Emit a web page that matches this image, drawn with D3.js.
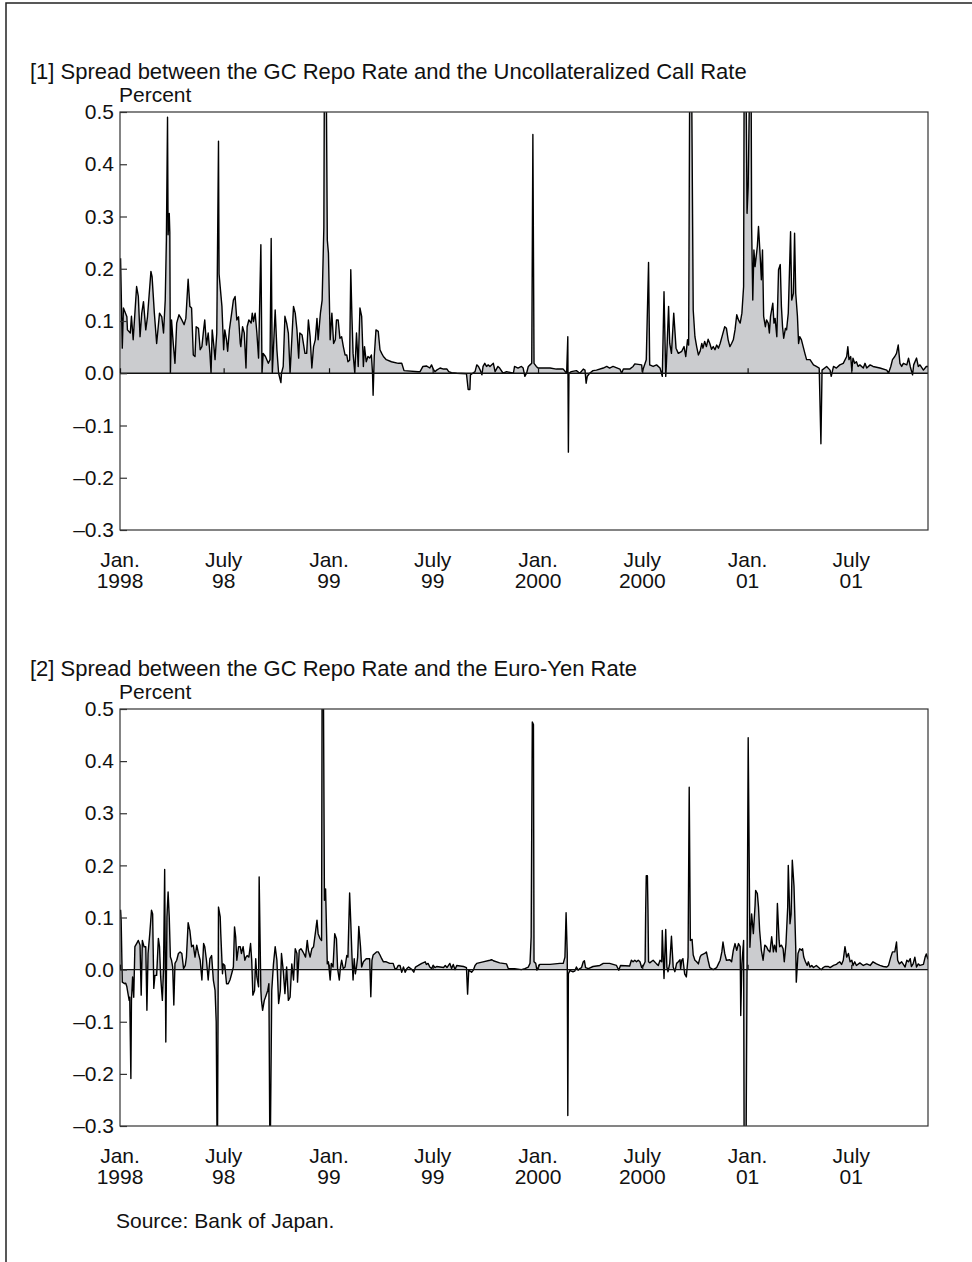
<!DOCTYPE html>
<html>
<head>
<meta charset="utf-8">
<script src="https://cdn.jsdelivr.net/npm/d3@7"></script>
<style>
  body { margin: 0; background: #fff; }
  text { font-family: "Liberation Sans", Arial, Helvetica, sans-serif; fill: #111; }
</style>
</head>
<body>
<div id="vis"></div>
<script>
// axis labels
const tickDates = ["1998-01-01", "1998-07-01", "1999-01-01", "1999-07-01", "2000-01-01", "2000-07-01", "2001-01-01", "2001-07-01"];
const tickMonth = ["Jan.", "July", "Jan.", "July", "Jan.", "July", "Jan.", "July"];
const tickYear = ["1998", "98", "99", "99", "2000", "2000", "01", "01"];
const yTicks = [0.5, 0.4, 0.3, 0.2, 0.1, 0.0, -0.1, -0.2, -0.3];

// [1] GC repo rate minus uncollateralized call rate (percent)
const callSpread = [
  ["1998-01-02",0.22],["1998-01-05",0.048],["1998-01-07",0.125],["1998-01-13",0.108],["1998-01-14",0.083],["1998-01-19",0.077],
  ["1998-01-21",0.109],["1998-01-24",0.064],["1998-01-27",0.115],["1998-01-30",0.166],["1998-02-02",0.147],["1998-02-05",0.07],
  ["1998-02-08",0.115],["1998-02-11",0.137],["1998-02-15",0.083],["1998-02-18",0.108],["1998-02-24",0.195],["1998-02-26",0.185],
  ["1998-03-02",0.115],["1998-03-06",0.057],["1998-03-11",0.115],["1998-03-15",0.108],["1998-03-18",0.077],["1998-03-21",0.14],
  ["1998-03-23",0.255],["1998-03-25",0.49],["1998-03-26",0.265],["1998-03-28",0.306],["1998-03-29",0.27],["1998-03-30",0.0],
  ["1998-04-01",0.102],["1998-04-04",0.057],["1998-04-07",0.019],["1998-04-10",0.096],["1998-04-14",0.112],["1998-04-19",0.102],
  ["1998-04-23",0.093],["1998-04-26",0.105],["1998-04-30",0.18],["1998-05-03",0.128],["1998-05-06",0.125],["1998-05-09",0.035],
  ["1998-05-12",0.032],["1998-05-14",0.089],["1998-05-18",0.086],["1998-05-21",0.045],["1998-05-24",0.051],["1998-05-27",0.083],
  ["1998-05-29",0.102],["1998-06-01",0.054],["1998-06-04",0.077],["1998-06-07",0.038],["1998-06-09",0.0],["1998-06-11",0.083],
  ["1998-06-14",0.051],["1998-06-16",0.026],["1998-06-19",0.077],["1998-06-22",0.444],["1998-06-23",0.19],["1998-06-28",0.128],
  ["1998-07-01",0.045],["1998-07-03",0.083],["1998-07-06",0.064],["1998-07-08",0.042],["1998-07-11",0.083],["1998-07-15",0.115],
  ["1998-07-18",0.14],["1998-07-21",0.147],["1998-07-24",0.102],["1998-07-27",0.108],["1998-07-30",0.057],["1998-07-31",0.051],
  ["1998-08-03",0.089],["1998-08-06",0.077],["1998-08-09",0.01],["1998-08-11",0.089],["1998-08-14",0.102],["1998-08-18",0.096],
  ["1998-08-20",0.115],["1998-08-22",0.099],["1998-08-25",0.115],["1998-08-28",0.077],["1998-08-31",0.029],["1998-09-04",0.246],
  ["1998-09-06",0.0],["1998-09-08",0.038],["1998-09-12",0.032],["1998-09-17",0.019],["1998-09-20",0.026],["1998-09-22",0.258],
  ["1998-09-24",0.0],["1998-09-29",0.121],["1998-10-02",0.045],["1998-10-05",0.0],["1998-10-09",-0.018],["1998-10-10",0.0],
  ["1998-10-13",0.013],["1998-10-16",0.109],["1998-10-19",0.096],["1998-10-22",0.077],["1998-10-25",0.0],["1998-10-28",0.064],
  ["1998-10-31",0.128],["1998-11-03",0.115],["1998-11-06",0.083],["1998-11-09",0.029],["1998-11-11",0.077],["1998-11-15",0.073],
  ["1998-11-20",0.038],["1998-11-23",0.038],["1998-11-26",0.102],["1998-11-29",0.07],["1998-12-02",0.01],["1998-12-05",0.051],
  ["1998-12-08",0.064],["1998-12-11",0.105],["1998-12-13",0.064],["1998-12-17",0.115],["1998-12-20",0.14],["1998-12-23",0.28],
  ["1998-12-24",0.6],["1998-12-27",0.6],["1998-12-29",0.255],["1998-12-31",0.23],
  ["1999-01-03",0.064],["1999-01-06",0.115],["1999-01-09",0.057],["1999-01-12",0.064],["1999-01-14",0.102],["1999-01-17",0.102],
  ["1999-01-20",0.067],["1999-01-23",0.07],["1999-01-26",0.051],["1999-01-29",0.035],["1999-02-01",0.035],["1999-02-03",0.022],
  ["1999-02-06",0.025],["1999-02-08",0.198],["1999-02-10",0.109],["1999-02-12",0.038],["1999-02-15",0.0],["1999-02-18",0.077],
  ["1999-02-21",0.013],["1999-02-24",0.125],["1999-02-27",0.109],["1999-03-02",0.013],["1999-03-04",0.051],["1999-03-07",0.022],
  ["1999-03-10",0.032],["1999-03-13",0.029],["1999-03-16",0.035],["1999-03-18",0.0],["1999-03-19",-0.042],["1999-03-21",0.032],
  ["1999-03-24",0.083],["1999-03-28",0.08],["1999-03-31",0.045],["1999-04-03",0.038],["1999-04-06",0.032],["1999-04-11",0.026],
  ["1999-04-20",0.022],["1999-05-02",0.019],["1999-05-08",0.019],["1999-05-12",0.005],["1999-06-06",0.003],["1999-06-09",0.003],
  ["1999-06-14",0.013],["1999-06-20",0.014],["1999-06-26",0.01],["1999-06-29",0.016],["1999-07-02",0.008],["1999-07-05",0.003],
  ["1999-07-08",0.006],["1999-07-14",0.01],["1999-07-20",0.008],["1999-07-26",0.008],["1999-07-29",0.003],["1999-08-03",0.001],
  ["1999-08-12",0.0],["1999-08-29",-0.001],["1999-09-01",-0.031],["1999-09-04",-0.031],["1999-09-05",-0.003],["1999-09-09",0.0],
  ["1999-09-13",0.003],["1999-09-16",0.016],["1999-09-19",0.013],["1999-09-22",0.006],["1999-09-25",-0.003],["1999-09-27",0.013],
  ["1999-09-30",0.019],["1999-10-03",0.013],["1999-10-06",0.016],["1999-10-09",0.013],["1999-10-15",0.019],["1999-10-18",0.003],
  ["1999-10-23",0.013],["1999-10-26",0.01],["1999-11-01",0.0],["1999-11-07",0.003],["1999-11-19",0.0],["1999-11-21",0.013],
  ["1999-11-27",0.01],["1999-12-03",0.013],["1999-12-06",0.01],["1999-12-09",-0.006],["1999-12-12",0.0],["1999-12-15",0.013],
  ["1999-12-18",0.016],["1999-12-21",0.019],["1999-12-23",0.457],["1999-12-25",0.019],["1999-12-29",0.013],
  ["2000-01-01",0.01],["2000-01-10",0.01],["2000-01-22",0.01],["2000-02-02",0.008],["2000-02-14",0.008],["2000-02-20",0.0],
  ["2000-02-22",0.07],["2000-02-23",-0.151],["2000-02-24",0.0],["2000-02-28",0.003],["2000-03-08",0.005],["2000-03-14",0.0],
  ["2000-03-20",0.008],["2000-03-23",0.006],["2000-03-25",-0.019],["2000-03-27",-0.006],["2000-03-31",0.0],["2000-04-06",0.005],
  ["2000-04-12",0.006],["2000-04-24",0.01],["2000-04-30",0.013],["2000-05-05",0.01],["2000-05-11",0.013],["2000-05-23",0.008],
  ["2000-05-26",0.0],["2000-05-29",0.008],["2000-06-09",0.008],["2000-06-15",0.013],["2000-06-18",0.018],["2000-06-30",0.016],
  ["2000-07-01",0.003],["2000-07-08",0.026],["2000-07-12",0.212],["2000-07-14",0.016],["2000-07-20",0.013],["2000-07-26",0.016],
  ["2000-08-01",0.01],["2000-08-05",-0.006],["2000-08-08",0.156],["2000-08-11",-0.006],["2000-08-12",0.013],["2000-08-16",0.128],
  ["2000-08-18",0.057],["2000-08-21",0.038],["2000-08-25",0.115],["2000-08-29",0.048],["2000-09-02",0.038],["2000-09-08",0.042],
  ["2000-09-12",0.051],["2000-09-15",0.032],["2000-09-18",0.064],["2000-09-20",0.054],["2000-09-22",0.6],["2000-09-25",0.6],
  ["2000-09-28",0.121],["2000-10-01",0.07],["2000-10-04",0.051],["2000-10-07",0.035],["2000-10-10",0.042],["2000-10-13",0.057],
  ["2000-10-15",0.048],["2000-10-18",0.061],["2000-10-21",0.051],["2000-10-24",0.065],["2000-10-27",0.057],["2000-10-30",0.046],
  ["2000-11-02",0.051],["2000-11-05",0.045],["2000-11-08",0.054],["2000-11-11",0.048],["2000-11-14",0.057],["2000-11-18",0.073],
  ["2000-11-22",0.089],["2000-11-25",0.086],["2000-11-28",0.064],["2000-12-01",0.051],["2000-12-04",0.057],["2000-12-07",0.064],
  ["2000-12-10",0.083],["2000-12-13",0.112],["2000-12-16",0.102],["2000-12-19",0.096],["2000-12-22",0.115],["2000-12-25",0.166],
  ["2000-12-26",0.6],["2000-12-29",0.6],["2000-12-31",0.306],
  ["2001-01-02",0.358],["2001-01-05",0.6],["2001-01-07",0.6],["2001-01-08",0.281],["2001-01-10",0.14],["2001-01-12",0.236],
  ["2001-01-14",0.204],["2001-01-18",0.243],["2001-01-20",0.281],["2001-01-23",0.223],["2001-01-25",0.179],["2001-01-27",0.236],
  ["2001-01-29",0.109],["2001-02-01",0.089],["2001-02-03",0.102],["2001-02-06",0.096],["2001-02-08",0.077],["2001-02-10",0.109],
  ["2001-02-14",0.134],["2001-02-16",0.096],["2001-02-18",0.105],["2001-02-21",0.07],["2001-02-24",0.198],["2001-02-27",0.208],
  ["2001-03-01",0.128],["2001-03-03",0.089],["2001-03-05",0.067],["2001-03-08",0.086],["2001-03-10",0.083],["2001-03-13",0.115],
  ["2001-03-15",0.192],["2001-03-17",0.271],["2001-03-19",0.14],["2001-03-22",0.153],["2001-03-24",0.268],["2001-03-26",0.153],
  ["2001-03-29",0.109],["2001-03-31",0.057],["2001-04-02",0.07],["2001-04-05",0.064],["2001-04-08",0.051],["2001-04-11",0.038],
  ["2001-04-14",0.026],["2001-04-20",0.026],["2001-04-26",0.016],["2001-05-01",0.013],["2001-05-06",0.01],["2001-05-09",-0.135],
  ["2001-05-11",0.006],["2001-05-19",0.013],["2001-05-25",0.006],["2001-05-27",-0.006],["2001-05-31",0.013],["2001-06-05",0.01],
  ["2001-06-11",0.016],["2001-06-17",0.019],["2001-06-23",0.032],["2001-06-25",0.051],["2001-06-27",0.026],["2001-06-30",0.032],
  ["2001-07-02",0.005],["2001-07-04",0.029],["2001-07-07",0.019],["2001-07-10",0.022],["2001-07-13",0.013],["2001-07-16",0.016],
  ["2001-07-22",0.01],["2001-07-25",0.019],["2001-07-28",0.01],["2001-08-03",0.016],["2001-08-08",0.013],["2001-08-20",0.01],
  ["2001-09-01",0.006],["2001-09-04",0.0],["2001-09-08",0.013],["2001-09-11",0.026],["2001-09-15",0.032],["2001-09-18",0.038],
  ["2001-09-21",0.054],["2001-09-24",0.019],["2001-09-27",0.013],["2001-09-30",0.019],["2001-10-06",0.016],["2001-10-09",0.029],
  ["2001-10-12",0.013],["2001-10-16",-0.003],["2001-10-18",0.016],["2001-10-23",0.029],["2001-10-26",0.013],["2001-10-29",0.016],
  ["2001-11-04",0.006],["2001-11-09",0.013],["2001-11-12",0.013]
];

// [2] GC repo rate minus euro-yen rate (percent)
const euroYenSpread = [
  ["1998-01-02",0.115],["1998-01-03",0.095],["1998-01-05",-0.024],["1998-01-09",-0.027],["1998-01-11",-0.026],["1998-01-13",-0.033],
  ["1998-01-14",-0.04],["1998-01-17",-0.059],["1998-01-18",-0.053],["1998-01-20",-0.209],["1998-01-21",-0.059],["1998-01-23",-0.014],
  ["1998-01-25",-0.053],["1998-01-27",0.044],["1998-01-30",0.05],["1998-02-02",0.056],["1998-02-05",0.047],["1998-02-07",-0.049],
  ["1998-02-09",0.056],["1998-02-12",0.044],["1998-02-15",0.044],["1998-02-17",-0.078],["1998-02-19",0.031],["1998-02-22",0.069],
  ["1998-02-25",0.114],["1998-02-27",0.107],["1998-03-01",-0.036],["1998-03-03",-0.011],["1998-03-06",-0.011],["1998-03-09",0.06],
  ["1998-03-11",0.044],["1998-03-13",-0.014],["1998-03-16",-0.059],["1998-03-18",-0.001],["1998-03-20",0.192],["1998-03-22",-0.139],
  ["1998-03-24",0.101],["1998-03-26",0.149],["1998-03-28",0.101],["1998-03-30",0.024],["1998-04-01",0.018],["1998-04-03",0.005],
  ["1998-04-05",-0.068],["1998-04-07",0.012],["1998-04-10",0.018],["1998-04-13",0.031],["1998-04-16",0.034],["1998-04-19",0.031],
  ["1998-04-22",0.002],["1998-04-25",0.008],["1998-04-27",0.024],["1998-04-30",0.09],["1998-05-03",0.075],["1998-05-06",0.044],
  ["1998-05-09",0.047],["1998-05-12",0.024],["1998-05-15",0.047],["1998-05-18",0.031],["1998-05-21",0.018],["1998-05-24",-0.02],
  ["1998-05-27",0.05],["1998-05-29",0.044],["1998-06-01",0.018],["1998-06-04",-0.02],["1998-06-07",0.021],["1998-06-10",0.027],
  ["1998-06-13",-0.02],["1998-06-16",-0.04],["1998-06-18",-0.1],["1998-06-20",-0.4],["1998-06-22",0.12],["1998-06-25",0.101],
  ["1998-06-26",0.069],["1998-06-29",-0.008],["1998-06-30",0.011],["1998-07-03",0.008],["1998-07-06",-0.027],["1998-07-09",-0.027],
  ["1998-07-12",-0.02],["1998-07-15",-0.008],["1998-07-18",0.005],["1998-07-20",0.082],["1998-07-22",0.063],["1998-07-24",0.018],
  ["1998-07-27",0.044],["1998-07-30",0.044],["1998-08-01",0.031],["1998-08-04",0.044],["1998-08-07",0.018],["1998-08-09",0.024],
  ["1998-08-11",0.027],["1998-08-14",0.024],["1998-08-17",0.05],["1998-08-19",0.018],["1998-08-21",-0.049],["1998-08-24",-0.04],
  ["1998-08-26",0.021],["1998-08-28",-0.014],["1998-08-31",-0.033],["1998-09-01",0.178],["1998-09-04",-0.04],["1998-09-05",-0.059],
  ["1998-09-07",-0.078],["1998-09-10",-0.059],["1998-09-12",-0.053],["1998-09-16",-0.04],["1998-09-18",-0.027],["1998-09-20",-0.4],
  ["1998-09-23",-0.04],["1998-09-26",0.011],["1998-09-29",0.044],["1998-10-02",0.018],["1998-10-05",-0.065],["1998-10-08",-0.04],
  ["1998-10-10",0.031],["1998-10-13",-0.001],["1998-10-16",-0.046],["1998-10-19",0.005],["1998-10-22",-0.059],["1998-10-25",-0.053],
  ["1998-10-28",0.011],["1998-10-31",-0.02],["1998-11-03",0.04],["1998-11-06",0.031],["1998-11-07",-0.024],["1998-11-10",0.037],
  ["1998-11-13",0.04],["1998-11-15",0.037],["1998-11-18",0.031],["1998-11-21",0.024],["1998-11-24",0.056],["1998-11-26",0.037],
  ["1998-11-29",0.024],["1998-12-02",0.04],["1998-12-05",0.044],["1998-12-08",0.069],["1998-12-11",0.095],["1998-12-13",0.069],
  ["1998-12-16",0.06],["1998-12-19",0.056],["1998-12-20",0.6],["1998-12-22",0.6],["1998-12-24",0.133],["1998-12-26",0.155],
  ["1998-12-29",0.011],["1998-12-31",0.015],
  ["1999-01-03",-0.02],["1999-01-05",0.012],["1999-01-08",0.005],["1999-01-11",0.069],["1999-01-14",0.059],["1999-01-16",0.002],
  ["1999-01-19",-0.02],["1999-01-21",0.005],["1999-01-23",0.018],["1999-01-26",0.002],["1999-01-29",0.005],["1999-02-01",0.027],
  ["1999-02-03",0.024],["1999-02-06",0.147],["1999-02-08",0.091],["1999-02-10",0.028],["1999-02-12",-0.02],["1999-02-14",0.021],
  ["1999-02-16",-0.008],["1999-02-18",0.005],["1999-02-20",0.024],["1999-02-22",0.083],["1999-02-25",0.044],["1999-02-27",0.005],
  ["1999-03-02",0.015],["1999-03-07",0.021],["1999-03-13",0.021],["1999-03-15",-0.052],["1999-03-17",0.018],["1999-03-19",0.028],
  ["1999-03-22",0.031],["1999-03-25",0.034],["1999-03-28",0.034],["1999-03-31",0.028],["1999-04-03",0.021],["1999-04-06",0.015],
  ["1999-04-11",0.015],["1999-04-17",0.012],["1999-04-23",0.012],["1999-04-26",0.002],["1999-04-29",0.002],["1999-05-02",0.008],
  ["1999-05-05",0.008],["1999-05-08",-0.005],["1999-05-11",0.005],["1999-05-14",-0.005],["1999-05-17",0.002],["1999-05-20",0.005],
  ["1999-05-26",0.0],["1999-05-29",-0.005],["1999-06-01",0.005],["1999-06-06",0.008],["1999-06-12",0.012],["1999-06-18",0.015],
  ["1999-06-20",0.01],["1999-06-23",0.012],["1999-06-26",0.005],["1999-06-29",0.002],["1999-07-02",0.008],["1999-07-05",0.004],
  ["1999-07-08",0.006],["1999-07-20",0.004],["1999-07-23",0.008],["1999-07-26",0.004],["1999-07-31",0.012],["1999-08-03",0.002],
  ["1999-08-06",0.01],["1999-08-09",0.0],["1999-08-12",0.008],["1999-08-24",0.006],["1999-08-29",0.004],["1999-08-31",-0.047],
  ["1999-09-02",-0.001],["1999-09-07",-0.005],["1999-09-10",-0.001],["1999-09-13",0.008],["1999-09-16",0.012],["1999-09-27",0.015],
  ["1999-10-09",0.018],["1999-10-12",0.019],["1999-10-15",0.017],["1999-10-26",0.013],["1999-11-07",0.011],["1999-11-10",0.002],
  ["1999-11-21",0.002],["1999-12-03",0.0],["1999-12-09",0.002],["1999-12-15",0.005],["1999-12-18",0.012],["1999-12-20",0.063],
  ["1999-12-22",0.475],["1999-12-24",0.47],["1999-12-25",0.015],["1999-12-28",0.012],["1999-12-30",-0.001],
  ["2000-01-04",0.01],["2000-01-22",0.01],["2000-02-08",0.012],["2000-02-14",0.012],["2000-02-17",0.024],["2000-02-19",0.109],
  ["2000-02-21",0.031],["2000-02-22",-0.28],["2000-02-23",-0.008],["2000-02-26",-0.001],["2000-02-28",-0.003],["2000-03-02",-0.004],
  ["2000-03-05",-0.003],["2000-03-08",0.005],["2000-03-11",-0.001],["2000-03-14",0.002],["2000-03-17",0.004],["2000-03-20",0.015],
  ["2000-03-22",0.017],["2000-03-24",0.004],["2000-03-29",0.002],["2000-04-06",0.006],["2000-04-18",0.008],["2000-04-24",0.012],
  ["2000-05-05",0.012],["2000-05-17",0.008],["2000-05-21",-0.001],["2000-05-24",0.008],["2000-06-09",0.007],["2000-06-12",0.018],
  ["2000-06-15",0.015],["2000-06-18",0.018],["2000-06-21",0.015],["2000-06-24",0.018],["2000-06-27",0.015],["2000-06-30",0.004],
  ["2000-07-03",0.008],["2000-07-06",0.015],["2000-07-07",0.115],["2000-07-08",0.18],["2000-07-10",0.18],["2000-07-11",0.115],
  ["2000-07-12",0.015],["2000-07-14",0.013],["2000-07-20",0.018],["2000-07-26",0.011],["2000-07-29",0.008],["2000-08-01",0.018],
  ["2000-08-04",0.015],["2000-08-05",0.075],["2000-08-08",-0.017],["2000-08-11",0.077],["2000-08-13",0.005],["2000-08-15",-0.004],
  ["2000-08-18",0.012],["2000-08-21",0.064],["2000-08-24",0.005],["2000-08-27",-0.004],["2000-08-30",0.012],["2000-09-02",0.015],
  ["2000-09-05",0.019],["2000-09-06",0.002],["2000-09-08",0.018],["2000-09-10",0.021],["2000-09-13",-0.008],["2000-09-16",-0.014],
  ["2000-09-19",0.024],["2000-09-21",0.35],["2000-09-23",0.056],["2000-09-26",0.058],["2000-09-28",0.028],["2000-10-01",0.018],
  ["2000-10-04",0.015],["2000-10-07",0.011],["2000-10-10",0.024],["2000-10-12",0.028],["2000-10-18",0.031],["2000-10-21",0.034],
  ["2000-10-24",0.018],["2000-10-27",0.004],["2000-11-02",0.0],["2000-11-08",0.004],["2000-11-11",0.011],["2000-11-14",0.018],
  ["2000-11-17",0.034],["2000-11-19",0.053],["2000-11-22",0.031],["2000-11-25",0.018],["2000-12-01",0.019],["2000-12-04",0.015],
  ["2000-12-07",0.037],["2000-12-10",0.05],["2000-12-13",0.037],["2000-12-16",0.05],["2000-12-19",0.044],["2000-12-20",-0.088],
  ["2000-12-22",0.011],["2000-12-25",0.056],["2000-12-26",-0.4],["2000-12-29",-0.4],["2000-12-31",0.0],
  ["2001-01-02",0.445],["2001-01-05",0.043],["2001-01-08",0.107],["2001-01-11",0.069],["2001-01-14",0.123],["2001-01-15",0.152],
  ["2001-01-18",0.146],["2001-01-20",0.12],["2001-01-22",0.075],["2001-01-25",0.037],["2001-01-28",0.018],["2001-01-31",0.047],
  ["2001-02-03",0.044],["2001-02-06",0.037],["2001-02-09",0.034],["2001-02-12",0.063],["2001-02-15",0.034],["2001-02-17",0.047],
  ["2001-02-20",0.034],["2001-02-22",0.127],["2001-02-25",0.056],["2001-02-26",0.044],["2001-03-01",0.047],["2001-03-04",0.04],
  ["2001-03-06",0.015],["2001-03-09",0.05],["2001-03-12",0.12],["2001-03-13",0.2],["2001-03-16",0.088],["2001-03-18",0.107],
  ["2001-03-20",0.21],["2001-03-23",0.16],["2001-03-26",0.043],["2001-03-27",-0.024],["2001-03-30",0.031],["2001-04-02",0.04],
  ["2001-04-05",0.037],["2001-04-07",0.04],["2001-04-09",0.024],["2001-04-12",0.015],["2001-04-15",0.008],["2001-04-17",0.015],
  ["2001-04-20",0.005],["2001-04-23",0.008],["2001-04-26",0.004],["2001-05-01",0.008],["2001-05-07",0.002],["2001-05-10",0.0],
  ["2001-05-13",0.004],["2001-05-16",0.006],["2001-05-22",0.006],["2001-05-25",0.004],["2001-05-31",0.008],["2001-06-05",0.01],
  ["2001-06-08",0.013],["2001-06-11",0.015],["2001-06-14",0.01],["2001-06-17",0.018],["2001-06-20",0.044],["2001-06-23",0.024],
  ["2001-06-26",0.031],["2001-06-29",0.015],["2001-07-02",0.018],["2001-07-04",0.008],["2001-07-07",0.015],["2001-07-10",0.008],
  ["2001-07-16",0.013],["2001-07-22",0.008],["2001-07-28",0.011],["2001-08-03",0.008],["2001-08-08",0.015],["2001-08-14",0.011],
  ["2001-08-20",0.008],["2001-08-26",0.006],["2001-09-01",0.005],["2001-09-04",0.008],["2001-09-08",0.024],["2001-09-11",0.034],
  ["2001-09-15",0.034],["2001-09-18",0.053],["2001-09-20",0.018],["2001-09-23",0.011],["2001-09-27",0.015],["2001-09-30",0.01],
  ["2001-10-03",0.005],["2001-10-06",0.018],["2001-10-09",0.015],["2001-10-12",0.021],["2001-10-14",0.006],["2001-10-17",0.011],
  ["2001-10-20",0.024],["2001-10-23",0.005],["2001-10-26",0.011],["2001-10-29",0.008],["2001-11-04",0.01],["2001-11-07",0.024],
  ["2001-11-09",0.03],["2001-11-12",0.02]
];

const width = 972, height = 1262;
const plotLeft = 120, plotRight = 928;

let svg = d3.select('#vis')
  .append('svg')
  .attr('width', width)
  .attr('height', height)
  .style('background-color', 'white');

// page border (top and left edges)
svg.append('path')
  .attr('d', 'M6,' + height + 'V3H' + width)
  .attr('fill', 'none')
  .attr('stroke', '#222')
  .attr('stroke-width', 1.5);

const parse = d3.timeParse('%Y-%m-%d');
let x = d3.scaleTime()
  .domain([parse('1998-01-01'), parse('2001-11-12')])
  .range([plotLeft, plotRight]);

const fmt = d => d < 0 ? '\u2013' + Math.abs(d).toFixed(1) : d.toFixed(1);

function drawPanel(id, title, series, top, bottom) {
  let data = series.map(d => ({ date: parse(d[0]), v: d[1] }));
  let y = d3.scaleLinear().domain([-0.3, 0.5]).range([bottom, top]);
  let g = svg.append('g');

  g.append('text')
    .attr('x', 30).attr('y', top - 33)
    .style('font-size', '22px')
    .text(title);

  g.append('text')
    .attr('x', plotLeft - 1).attr('y', top - 10)
    .style('font-size', '21px')
    .text('Percent');

  svg.append('clipPath').attr('id', id)
    .append('rect')
    .attr('x', plotLeft).attr('y', top)
    .attr('width', plotRight - plotLeft).attr('height', bottom - top);

  let plot = g.append('g').attr('clip-path', 'url(#' + id + ')');

  let area = d3.area()
    .x(d => x(d.date))
    .y0(y(0))
    .y1(d => y(d.v));
  let line = d3.line()
    .x(d => x(d.date))
    .y(d => y(d.v));

  plot.append('path')
    .datum(data)
    .attr('d', area)
    .attr('fill', '#cbcccf');

  plot.append('path')
    .datum(data)
    .attr('d', line)
    .attr('fill', 'none')
    .attr('stroke', '#000')
    .attr('stroke-width', 1.4)
    .attr('stroke-linejoin', 'round');

  // zero line
  g.append('line')
    .attr('x1', plotLeft).attr('x2', plotRight)
    .attr('y1', y(0)).attr('y2', y(0))
    .attr('stroke', '#111').attr('stroke-width', 1.4);

  // frame
  g.append('rect')
    .attr('x', plotLeft).attr('y', top)
    .attr('width', plotRight - plotLeft).attr('height', bottom - top)
    .attr('fill', 'none')
    .attr('stroke', '#333').attr('stroke-width', 1.2);

  // y axis: ticks inside, labels outside
  let yAxis = g.append('g')
    .attr('transform', 'translate(' + plotLeft + ',0)')
    .call(d3.axisLeft(y).tickValues(yTicks).tickSize(-7).tickPadding(6).tickFormat(fmt));
  yAxis.select('.domain').remove();
  yAxis.selectAll('line').attr('stroke', '#333').attr('stroke-width', 1.2);
  yAxis.selectAll('text')
    .attr('fill', '#111')
    .style('font-size', '21px')
    .style('font-family', '"Liberation Sans", Arial, Helvetica, sans-serif');

  // x ticks sit on the zero line
  let xAxis = g.append('g')
    .attr('transform', 'translate(0,' + y(0) + ')')
    .call(d3.axisBottom(x).tickValues(tickDates.map(parse)).tickSize(-5).tickFormat(''));
  xAxis.select('.domain').remove();
  xAxis.selectAll('line').attr('stroke', '#111').attr('stroke-width', 1.2);

  let labels = g.selectAll('.xlab')
    .data(tickDates)
    .enter().append('text')
    .attr('text-anchor', 'middle')
    .style('font-size', '21px');
  labels.append('tspan')
    .attr('x', d => x(parse(d)))
    .attr('y', bottom + 37)
    .text((d, i) => tickMonth[i]);
  labels.append('tspan')
    .attr('x', d => x(parse(d)))
    .attr('y', bottom + 58)
    .text((d, i) => tickYear[i]);
}

drawPanel('clip1', '[1] Spread between the GC Repo Rate and the Uncollateralized Call Rate', callSpread, 112, 530);
drawPanel('clip2', '[2] Spread between the GC Repo Rate and the Euro-Yen Rate', euroYenSpread, 709, 1126);

svg.append('text')
  .attr('x', 116).attr('y', 1228)
  .style('font-size', '21px')
  .text('Source: Bank of Japan.');
</script>
</body>
</html>
